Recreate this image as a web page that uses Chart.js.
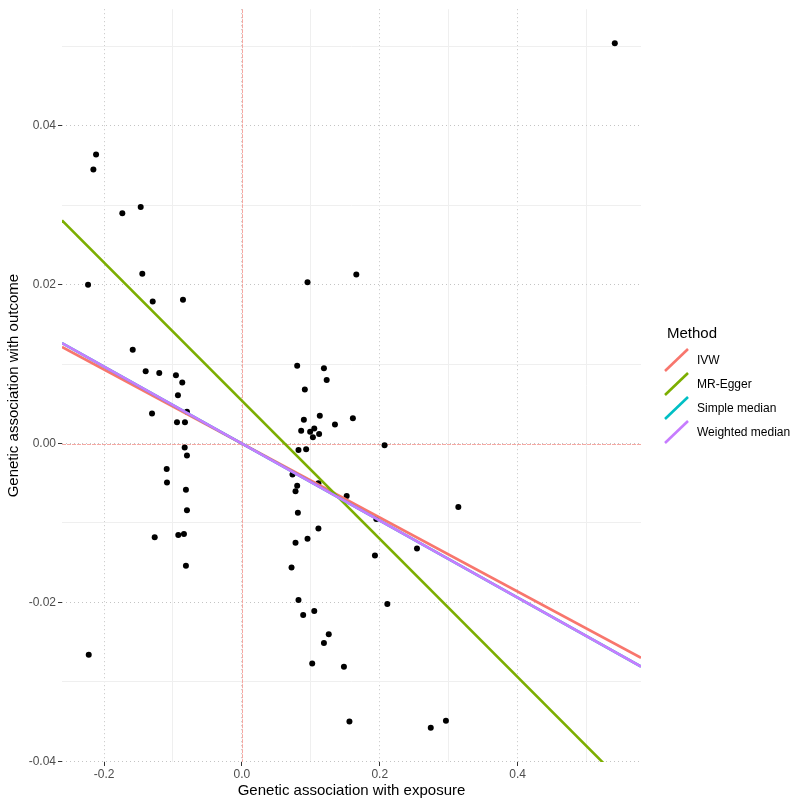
<!DOCTYPE html>
<html>

<head>
  <script src="https://cdn.jsdelivr.net/npm/chart.js"></script>
  <style>
    body { margin: 0; background: #fff; }
    #wrap { position: relative; width: 800px; height: 809px; }
  </style>
</head>

<body>
  <div id="wrap"><canvas id="mrChart"></canvas></div>

  <script>
    // SNP associations
    const exposure = [
      -0.2116, -0.2155, -0.1735, -0.1468, -0.1445, -0.2232, -0.1294, -0.0855,
      -0.1584, -0.1396, -0.1199, -0.0957, -0.0865, -0.0928, -0.1304, -0.0797,
      -0.0942, -0.0826, -0.0830, -0.0797, -0.1091, -0.1087, -0.0812, -0.0797,
      -0.1265, -0.0923, -0.0841, -0.0812, -0.2222,
      0.166, 0.0952, 0.0802, 0.119, 0.123, 0.0913, 0.113, 0.161, 0.0899,
      0.135, 0.0860, 0.105, 0.099, 0.112, 0.103, 0.207, 0.0821, 0.0932,
      0.0734, 0.0802, 0.0778, 0.111, 0.152, 0.0812, 0.195, 0.111, 0.0952,
      0.0778, 0.254, 0.193, 0.072, 0.0821, 0.211, 0.0889, 0.105, 0.126,
      0.119, 0.314,
      0.102, 0.148, 0.156, 0.274, 0.296,
      0.541
    ];
    const outcome = [
      0.0364, 0.0345, 0.0290, 0.0298, 0.0214, 0.0200, 0.0179, 0.0181,
      0.0118, 0.0091, 0.0089, 0.0086, 0.0077, 0.0061, 0.0038, 0.0040,
      0.0027, 0.0027, -0.0005, -0.0015, -0.0032, -0.0049, -0.0058, -0.0084,
      -0.0118, -0.0115, -0.0114, -0.0154, -0.0266,
      0.0213, 0.0203, 0.0098, 0.0095, 0.0080, 0.0068, 0.0035, 0.0032, 0.0030,
      0.0024, 0.0016, 0.0019, 0.0015, 0.0012, 0.0008, -0.0002, -0.0008, -0.0007,
      -0.0039, -0.0053, -0.0060, -0.0050, -0.0066, -0.0087, -0.0095, -0.0107, -0.0120,
      -0.0125, -0.0132, -0.0141, -0.0156, -0.0197, -0.0202, -0.0216, -0.0211, -0.0240,
      -0.0251, -0.0080,
      -0.0277, -0.0281, -0.0350, -0.0358, -0.0349,
      0.0504
    ];

    // fitted lines: outcome = intercept + slope * exposure
    const methods = ["IVW", "MR-Egger", "Simple median", "Weighted median"];
    const intercepts = [0, 0.0054, 0, 0];
    const slopes = [-0.0466, -0.0870, -0.0485, -0.0485];
    const methodColors = ["#F8766D", "#7CAE00", "#00BFC4", "#C77CFF"];

    const xRange = [-0.261, 0.579];
    const yRange = [-0.0401, 0.0547];
    const xGrid = [-0.2, -0.1, 0, 0.1, 0.2, 0.3, 0.4, 0.5];
    const xTicks = [-0.2, 0, 0.2, 0.4];
    const yGrid = [-0.04, -0.03, -0.02, -0.01, 0, 0.01, 0.02, 0.03, 0.04, 0.05];
    const yTicks = [-0.04, -0.02, 0, 0.02, 0.04];
    const refX = 0, refY = 0;

    const FONT = "'Liberation Sans', Arial, sans-serif";

    function gridColor(ticks) {
      return ctx => ticks.includes(ctx.tick.value) ? "#c4c4c4" : "#efefef";
    }
    function gridDash(ticks) {
      return ctx => ticks.includes(ctx.tick.value) ? [1, 3] : [];
    }
    function tickColor(ticks) {
      return ctx => ticks.includes(ctx.tick.value) ? "#333333" : "rgba(0,0,0,0)";
    }

    const datasets = [];
    // weighted median on top, points at the bottom (same as ggplot draw order)
    for (let i = methods.length - 1; i >= 0; i--) {
      datasets.push({
        type: "line",
        label: methods[i],
        data: xRange.map(x => ({ x: x, y: intercepts[i] + slopes[i] * x })),
        borderColor: methodColors[i],
        borderWidth: 2.6,
        pointRadius: 0,
        fill: false,
        clip: 0
      });
    }
    datasets.push({
      type: "scatter",
      label: "SNPs",
      data: exposure.map((x, i) => ({ x: x, y: outcome[i] })),
      backgroundColor: "#000",
      borderColor: "#000",
      pointRadius: 3,
      borderWidth: 0
    });

    // pink dashed lines at x = 0 and y = 0
    const refLines = {
      id: "refLines",
      beforeDatasetsDraw(chart) {
        const { ctx, chartArea: a, scales } = chart;
        const px = Math.round(scales.x.getPixelForValue(refX)) + 0.5;
        const py = Math.round(scales.y.getPixelForValue(refY)) + 0.5;
        ctx.save();
        ctx.strokeStyle = "#f5a8a2";
        ctx.lineWidth = 1;
        ctx.setLineDash([4, 1]);
        ctx.beginPath();
        ctx.moveTo(px, a.top);
        ctx.lineTo(px, a.bottom);
        ctx.moveTo(a.left, py);
        ctx.lineTo(a.right, py);
        ctx.stroke();
        ctx.restore();
      }
    };

    const legendPlugin = {
      id: "methodLegend",
      afterDraw(chart) {
        const ctx = chart.ctx;
        ctx.save();
        ctx.fillStyle = "#000";
        ctx.textBaseline = "middle";
        ctx.font = "15px " + FONT;
        ctx.fillText("Method", 667, 334);
        ctx.font = "12px " + FONT;
        methods.forEach((m, i) => {
          const y = 361 + i * 24;
          ctx.strokeStyle = methodColors[i];
          ctx.lineWidth = 2.6;
          ctx.beginPath();
          ctx.moveTo(665, y + 10);
          ctx.lineTo(688, y - 12);
          ctx.stroke();
          ctx.fillText(m, 697, y);
        });
        ctx.restore();
      }
    };

    new Chart(document.getElementById("mrChart"), {
      type: "scatter",
      data: { datasets: datasets },
      plugins: [refLines, legendPlugin],
      options: {
        responsive: true,
        maintainAspectRatio: false,
        animation: false,
        events: [],
        layout: { padding: { top: 8, right: 159, left: 0, bottom: 0 } },
        plugins: { legend: { display: false }, tooltip: { enabled: false } },
        scales: {
          x: {
            type: "linear",
            min: xRange[0],
            max: xRange[1],
            afterBuildTicks: s => { s.ticks = xGrid.map(v => ({ value: v })); },
            afterFit: s => { s.height = 47; },
            ticks: {
              autoSkip: false,
              maxRotation: 0,
              padding: 1,
              color: "#4d4d4d",
              font: { family: FONT, size: 12 },
              callback: v => xTicks.includes(v) ? v.toFixed(1) : ""
            },
            grid: { color: gridColor(xTicks), tickColor: tickColor(xTicks), tickLength: 4, lineWidth: 1 },
            border: { display: false, dash: gridDash(xTicks) },
            title: {
              display: true,
              text: "Genetic association with exposure",
              color: "#000",
              font: { family: FONT, size: 15 },
              padding: { top: 0, bottom: 9 }
            }
          },
          y: {
            type: "linear",
            min: yRange[0],
            max: yRange[1],
            afterBuildTicks: s => { s.ticks = yGrid.map(v => ({ value: v })); },
            afterFit: s => { s.width = 62; },
            ticks: {
              autoSkip: false,
              padding: 2,
              color: "#4d4d4d",
              font: { family: FONT, size: 12 },
              callback: v => yTicks.includes(v) ? v.toFixed(2) : ""
            },
            grid: { color: gridColor(yTicks), tickColor: tickColor(yTicks), tickLength: 4, lineWidth: 1 },
            border: { display: false, dash: gridDash(yTicks) },
            title: {
              display: true,
              text: "Genetic association with outcome",
              color: "#000",
              font: { family: FONT, size: 15 },
              padding: { top: 5, bottom: 0 }
            }
          }
        }
      }
    });
  </script>
</body>

</html>
